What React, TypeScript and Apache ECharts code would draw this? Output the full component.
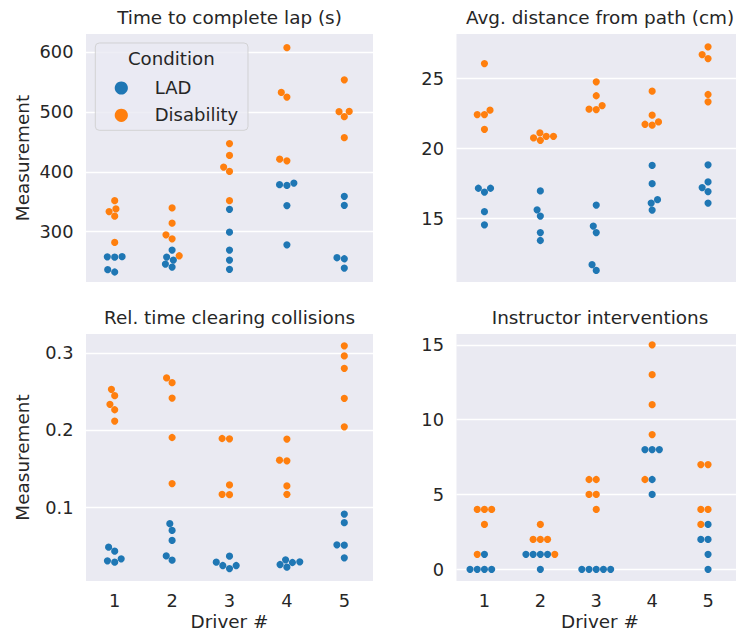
import React, { useEffect, useRef } from "react";
import * as echarts from "echarts";

// ---------- data ----------
const drivers = [1, 2, 3, 4, 5];
const hueNames = ["LAD", "Disability"];
const panelTitles = [
  "Time to complete lap (s)",
  "Avg. distance from path (cm)",
  "Rel. time clearing collisions",
  "Instructor interventions",
];

// Time to complete lap (s), per driver
const lapLAD = [
  [258, 257.4, 258.3, 236.6, 232.7],
  [269.3, 257.6, 252.6, 246, 241],
  [337.4, 299.2, 269.3, 252.6, 237.1],
  [378.4, 377.3, 381.2, 343.5, 278],
  [359, 344, 256.5, 254.8, 239.3],
];
const lapDis = [
  [351.8, 333.5, 338, 325.8, 282],
  [339.6, 314.1, 294.7, 288.1, 259.8],
  [447, 427.2, 407.8, 400.6, 351.8],
  [607.2, 532.4, 524.7, 418.3, 421],
  [553.5, 500.8, 492, 500.3, 457],
];

// Avg. distance from path (cm)
const distLAD = [
  [17.16, 16.89, 17.16, 15.48, 14.54],
  [16.97, 15.62, 15.17, 13.99, 13.42],
  [15.96, 14.45, 13.99, 11.69, 11.28],
  [18.79, 17.49, 16.1, 15.6, 16.34],
  [18.84, 17.61, 17.21, 16.92, 16.1],
];
const distDis = [
  [26.08, 22.43, 22.43, 22.75, 21.38],
  [20.76, 21.12, 20.59, 20.88, 20.88],
  [24.78, 23.78, 22.82, 22.79, 23.08],
  [24.11, 22.39, 21.74, 21.67, 21.91],
  [27.28, 26.73, 26.44, 23.87, 23.35],
];

// Rel. time clearing collisions
const relLAD = [
  [0.0479, 0.0427, 0.0302, 0.0284, 0.0328],
  [0.0783, 0.0696, 0.0566, 0.0366, 0.031],
  [0.0362, 0.0284, 0.0241, 0.0202, 0.0241],
  [0.0315, 0.0254, 0.0219, 0.028, 0.0289],
  [0.0909, 0.0796, 0.051, 0.0505, 0.0341],
];
const relDis = [
  [0.2527, 0.2445, 0.2332, 0.2262, 0.2115],
  [0.2675, 0.2614, 0.2414, 0.1902, 0.1304],
  [0.1889, 0.1885, 0.1286, 0.1165, 0.116],
  [0.1881, 0.1599, 0.1607, 0.1273, 0.1165],
  [0.3091, 0.2961, 0.28, 0.241, 0.2041],
];

// Instructor interventions
const intLAD = [
  [1, 0, 0, 0, 0],
  [1, 1, 1, 1, 0],
  [0, 0, 0, 0, 0],
  [8, 8, 8, 6, 5],
  [3, 2, 2, 1, 0],
];
const intDis = [
  [4, 4, 4, 3, 1],
  [3, 2, 2, 2, 1],
  [6, 6, 5, 5, 4],
  [15, 13, 11, 9, 6],
  [7, 7, 4, 4, 3],
];

// y ranges and tick labels
const yRanges = [
  [216, 630],
  [10.45, 28.2],
  [0.004, 0.3245],
  [-0.78, 15.72],
];
const yTicks = [
  [300, 400, 500, 600],
  [15, 20, 25],
  [0.1, 0.2, 0.3],
  [0, 5, 10, 15],
];

const panelData = [
  [lapLAD, lapDis],
  [distLAD, distDis],
  [relLAD, relDis],
  [intLAD, intDis],
];

// ---------- layout / style ----------
const W = 736;
const H = 637;
const grids = [
  { left: 86, top: 34, width: 287, height: 248 },
  { left: 456.5, top: 34, width: 287, height: 248 },
  { left: 86, top: 334, width: 287, height: 247 },
  { left: 456.5, top: 334, width: 287, height: 247 },
];
const COLORS = ["#1f77b4", "#ff7f0e"];
const TXT = "#262626";
const FONT = "DejaVu Sans";
const DOT = 7.05; // swarm collision diameter (px)

// seaborn-like beeswarm: returns x offsets in px (original order)
function beeswarm(vals: number[], pxY: number, d: number): number[] {
  const idx = vals.map((_, i) => i).sort((a, b) => vals[a] - vals[b] || a - b);
  const placed: { x: number; y: number }[] = [];
  const out = new Array(vals.length).fill(0);
  for (const i of idx) {
    const y = vals[i] * pxY;
    if (placed.length === 0) {
      placed.push({ x: 0, y });
      out[i] = 0;
      continue;
    }
    const nb: { x: number; y: number }[] = [];
    for (let k = placed.length - 1; k >= 0; k--) {
      if (y - placed[k].y < d) nb.push(placed[k]);
      else break;
    }
    nb.reverse();
    const cands = [0];
    let leftFirst = true;
    for (const n of nb) {
      const dy = y - n.y;
      const dx = Math.sqrt(Math.max(d * d - dy * dy, 0)) * 1.05;
      const cl = n.x - dx;
      const cr = n.x + dx;
      if (leftFirst) cands.push(cl, cr);
      else cands.push(cr, cl);
      leftFirst = !leftFirst;
    }
    const order = cands
      .map((_, j) => j)
      .sort((a, b) => Math.abs(cands[a]) - Math.abs(cands[b]) || a - b);
    let chosen = cands[order[0]];
    for (const j of order) {
      const c = cands[j];
      if (nb.every((n) => (n.x - c) ** 2 + (n.y - y) ** 2 >= d * d - 1e-9)) {
        chosen = c;
        break;
      }
    }
    placed.push({ x: chosen, y });
    out[i] = chosen;
  }
  return out;
}

function buildOption() {
  const series: any[] = [];
  panelData.forEach((pd, p) => {
    const g = grids[p];
    const [mn, mx] = yRanges[p];
    const pxY = g.height / (mx - mn);
    const pxX = g.width / drivers.length;
    const seriesData: number[][][] = [[], []];
    drivers.forEach((drv, di) => {
      const vals: number[] = [];
      const hues: number[] = [];
      pd.forEach((arr, h) => {
        arr[di].forEach((v) => {
          vals.push(v);
          hues.push(h);
        });
      });
      const offs = beeswarm(vals, pxY, DOT);
      vals.forEach((v, k) => {
        seriesData[hues[k]].push([drv + offs[k] / pxX, v]);
      });
    });
    seriesData.forEach((dat, h) => {
      series.push({
        type: "scatter",
        name: hueNames[h],
        xAxisIndex: p,
        yAxisIndex: p,
        data: dat,
        symbol: "circle",
        symbolSize: 7.2,
        itemStyle: { color: COLORS[h], opacity: 1 },
        z: 3,
        silent: true,
      });
    });
  });

  const xAxis = grids.map((_, p) => ({
    type: "value",
    gridIndex: p,
    min: 0.5,
    max: 5.5,
    axisLine: { show: false },
    axisTick: { show: false, customValues: drivers },
    splitLine: { show: false },
    axisLabel: {
      show: p >= 2,
      customValues: drivers,
      color: TXT,
      fontFamily: FONT,
      fontSize: 17.8,
      lineHeight: 20,
      margin: 9,
    },
  }));

  const yAxis = grids.map((_, p) => ({
    type: "value",
    gridIndex: p,
    min: yRanges[p][0],
    max: yRanges[p][1],
    axisLine: { show: false },
    axisTick: { show: false, customValues: yTicks[p] },
    splitLine: { show: true, lineStyle: { color: "#ffffff", width: 1.3 } },
    axisLabel: {
      show: true,
      customValues: yTicks[p],
      color: TXT,
      fontFamily: FONT,
      fontSize: 17.8,
      margin: 12.5,
    },
  }));

  const textEl = (
    text: string,
    x: number,
    y: number,
    size: number,
    align = "center",
    rotation = 0
  ) => ({
    type: "text",
    x,
    y,
    rotation,
    z: 101,
    silent: true,
    style: {
      text,
      fill: TXT,
      fontFamily: FONT,
      fontSize: size,
      align,
      verticalAlign: "middle",
    },
  });

  const graphic: any[] = [
    textEl(panelTitles[0], 229.5, 17, 18.4),
    textEl(panelTitles[1], 600, 17, 18.4),
    textEl(panelTitles[2], 229.5, 317, 18.4),
    textEl(panelTitles[3], 600, 317, 18.4),
    textEl("Measurement", 22, 158, 18.4, "center", Math.PI / 2),
    textEl("Measurement", 22, 457.5, 18.4, "center", Math.PI / 2),
    textEl("Driver #", 229.5, 621, 18.4),
    textEl("Driver #", 600, 621, 18.4),
    // legend box
    {
      type: "rect",
      z: 100,
      silent: true,
      shape: { x: 95.3, y: 43, width: 152.7, height: 87.3, r: 4 },
      style: {
        fill: "rgba(234,234,242,0.8)",
        stroke: "rgba(204,204,204,0.8)",
        lineWidth: 1,
      },
    },
    textEl("Condition", 171.3, 58.5, 18.2),
    {
      type: "circle",
      z: 101,
      silent: true,
      shape: { cx: 121.3, cy: 88, r: 6.6 },
      style: { fill: COLORS[0] },
    },
    {
      type: "circle",
      z: 101,
      silent: true,
      shape: { cx: 121.3, cy: 115.3, r: 6.6 },
      style: { fill: COLORS[1] },
    },
    textEl(hueNames[0], 154.7, 87.5, 18, "left"),
    textEl(hueNames[1], 154.7, 114.8, 18, "left"),
  ];

  return {
    animation: false,
    backgroundColor: "#ffffff",
    grid: grids.map((g) => ({
      ...g,
      show: true,
      backgroundColor: "#EAEAF2",
      borderWidth: 0,
      containLabel: false,
    })),
    xAxis,
    yAxis,
    series,
    graphic,
  };
}

export default function App() {
  const ref = useRef<HTMLDivElement>(null);
  useEffect(() => {
    if (!ref.current) return;
    const chart = echarts.init(ref.current, undefined, {
      renderer: "svg",
      width: W,
      height: H,
    });
    chart.setOption(buildOption() as any);
    return () => chart.dispose();
  }, []);
  return (
    <div
      ref={ref}
      style={{
        position: "fixed",
        left: 0,
        top: 0,
        width: W,
        height: H,
        overflow: "hidden",
        background: "#ffffff",
      }}
    />
  );
}
